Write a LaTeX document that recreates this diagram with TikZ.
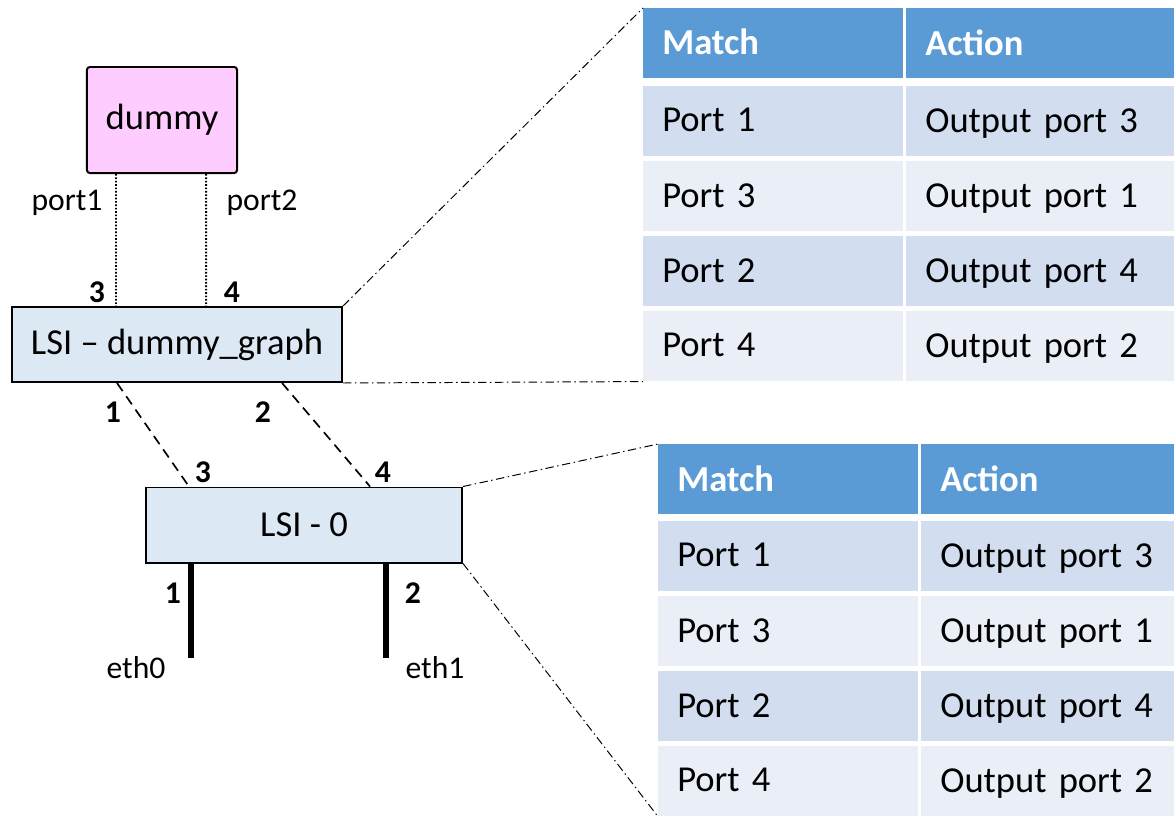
\documentclass[tikz,border=0pt]{standalone}
\usepackage{fontspec}
\setmainfont{Carlito}
\usetikzlibrary{positioning}

\definecolor{dummypink}{HTML}{FFCCFF}
\definecolor{lsiblue}{HTML}{DDE8F5}
\definecolor{headblue}{HTML}{5B9BD5}
\definecolor{rowdark}{HTML}{D2DEEF}
\definecolor{rowlight}{HTML}{EAEFF7}

\begin{document}
\begin{tikzpicture}[
    x=0.025cm, y=-0.025cm,
    bigtext/.style={font=\fontsize{26}{31}\selectfont},
    smalltext/.style={font=\fontsize{22.5}{27}\selectfont},
    portnum/.style={font=\fontsize{22.5}{27}\selectfont\bfseries},
    graphbox/.style={rectangle, draw, line width=1.4pt, fill=dummypink, rounded corners=2pt, minimum width=3.75cm, minimum height=2.65cm, bigtext},
    lsibox/.style={rectangle, draw, line width=1.4pt, fill=lsiblue, minimum height=1.875cm, bigtext},
    vlink/.style={line width=1.4pt, dash pattern=on 1.2pt off 1.2pt},
    lsilink/.style={line width=1.2pt, dash pattern=on 7pt off 4.5pt},
    ethlink/.style={line width=3.6pt},
    zoomline/.style={line width=0.7pt, dash pattern=on 6pt off 2.5pt on 1pt off 2.5pt},
    cell/.style={rectangle, anchor=north west, inner xsep=0.475cm, inner ysep=0pt, minimum height=1.75cm, text depth=0.16em, align=left, bigtext},
    headcell/.style={cell, fill=headblue, text=white, font=\fontsize{26}{31}\selectfont\bfseries},
    darkcell/.style={cell, fill=rowdark},
    lightcell/.style={cell, fill=rowlight},
    colA/.style={text width=5.55cm},
    colB/.style={text width=5.75cm},
    colBb/.style={text width=5.375cm}
]
\useasboundingbox (0,0) rectangle (1174,816);

% dummy graph and the two LSIs
\node[graphbox] (dummy) at (162,120) {dummy};
\node[lsibox, minimum width=8.25cm] (lsig) at (177,344.5) {LSI -- dummy\_graph};
\node[lsibox, minimum width=7.9cm] (lsi0) at (304,525) {LSI - 0};

% ports of dummy to LSI - dummy_graph
\draw[vlink] ([xshift=0.75cm]dummy.south west) -- ([xshift=2.625cm]lsig.north west);
\draw[vlink] ([xshift=3cm]dummy.south west) -- ([xshift=4.875cm]lsig.north west);
\node[smalltext] (port1) at (67,203) {port1};
\node[smalltext] (port2) at (262,203) {port2};
\node[portnum] (g3) at (97,292) {3};
\node[portnum] (g4) at (232,292) {4};

% LSI - dummy_graph to LSI - 0
\draw[lsilink] ([xshift=2.65cm]lsig.south west) -- ([xshift=1.1cm]lsi0.north west);
\draw[lsilink] ([xshift=6.775cm]lsig.south west) -- ([xshift=5.625cm]lsi0.north west);
\node[portnum] (g1) at (113,412) {1};
\node[portnum] (g2) at (263,412) {2};
\node[portnum] (l3) at (203,472) {3};
\node[portnum] (l4) at (383,472) {4};

% physical interfaces
\coordinate (eth0end) at (191,658);
\coordinate (eth1end) at (386,658);
\draw[ethlink] (lsi0.south west -| eth0end) -- (eth0end);
\draw[ethlink] (lsi0.south west -| eth1end) -- (eth1end);
\node[portnum] (l1) at (173,593) {1};
\node[portnum] (l2) at (413,593) {2};
\node[smalltext] (eth0) at (136,668) {eth0};
\node[smalltext] (eth1) at (435,668) {eth1};

% flow table of LSI - dummy_graph
\node[headcell, colA] (tA0) at (643,8) {Match};
\node[headcell, colB] (tB0) at (906,8) {Action};
\node[darkcell, colA] (tA1) at (643,86) {Port 1};
\node[darkcell, colB] (tB1) at (906,86) {Output port 3};
\node[lightcell, colA] (tA2) at (643,161) {Port 3};
\node[lightcell, colB] (tB2) at (906,161) {Output port 1};
\node[darkcell, colA] (tA3) at (643,236) {Port 2};
\node[darkcell, colB] (tB3) at (906,236) {Output port 4};
\node[lightcell, colA] (tA4) at (643,311) {Port 4};
\node[lightcell, colB] (tB4) at (906,311) {Output port 2};

% flow table of LSI - 0
\node[headcell, colA] (bA0) at (658,444) {Match};
\node[headcell, colBb] (bB0) at (921,444) {Action};
\node[darkcell, colA] (bA1) at (658,521) {Port 1};
\node[darkcell, colBb] (bB1) at (921,521) {Output port 3};
\node[lightcell, colA] (bA2) at (658,596) {Port 3};
\node[lightcell, colBb] (bB2) at (921,596) {Output port 1};
\node[darkcell, colA] (bA3) at (658,671) {Port 2};
\node[darkcell, colBb] (bB3) at (921,671) {Output port 4};
\node[lightcell, colA] (bA4) at (658,746) {Port 4};
\node[lightcell, colBb] (bB4) at (921,746) {Output port 2};

% zoom lines to the tables
\draw[zoomline] (lsig.north east) -- (tA0.north west);
\draw[zoomline] (lsig.south east) -- (tA4.south west);
\draw[zoomline] (lsi0.north east) -- (bA0.north west);
\draw[zoomline] (lsi0.south east) -- (bA4.south west);

\end{tikzpicture}
\end{document}
